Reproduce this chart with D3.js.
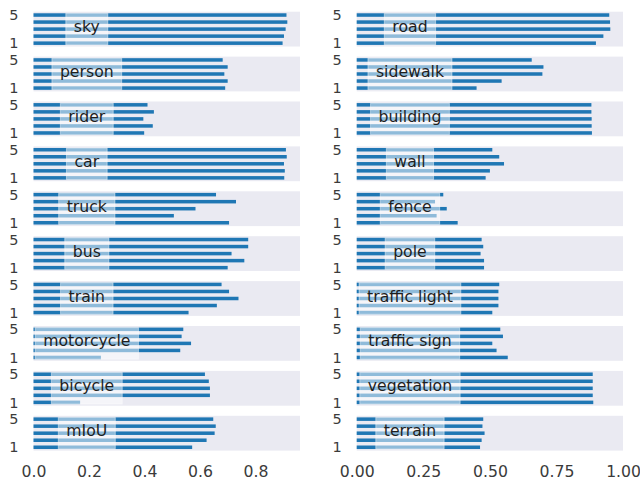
<!DOCTYPE html>
<html>
<head>
<meta charset="utf-8">
<script src="https://cdn.jsdelivr.net/npm/d3@7"></script>
<style>
  html, body { margin: 0; padding: 0; background: #ffffff; }
  svg { display: block; }
</style>
</head>
<body>
<script>
// Per-class IoU for five runs (run 1 ... run 5), two columns of classes.
const leftCategories = ["sky", "person", "rider", "car", "truck", "bus", "train", "motorcycle", "bicycle", "mIoU"];
const rightCategories = ["road", "sidewalk", "building", "wall", "fence", "pole", "traffic light", "traffic sign", "vegetation", "terrain"];
const runs = [1, 2, 3, 4, 5];

const leftScores = [
  [0.898, 0.903, 0.909, 0.915, 0.912], // sky
  [0.691, 0.700, 0.688, 0.700, 0.682], // person
  [0.399, 0.430, 0.396, 0.434, 0.411], // rider
  [0.904, 0.906, 0.903, 0.913, 0.910], // car
  [0.705, 0.506, 0.584, 0.730, 0.658], // truck
  [0.700, 0.760, 0.714, 0.774, 0.774], // bus
  [0.559, 0.661, 0.739, 0.705, 0.678], // train
  [0.243, 0.529, 0.568, 0.534, 0.540], // motorcycle
  [0.168, 0.636, 0.636, 0.632, 0.618], // bicycle
  [0.572, 0.624, 0.653, 0.657, 0.648]  // mIoU
];
const rightScores = [
  [0.898, 0.926, 0.952, 0.951, 0.948], // road
  [0.450, 0.544, 0.697, 0.701, 0.657], // sidewalk
  [0.883, 0.882, 0.882, 0.881, 0.881], // building
  [0.484, 0.500, 0.553, 0.535, 0.509], // wall
  [0.379, 0.300, 0.338, 0.294, 0.325], // fence
  [0.478, 0.478, 0.465, 0.475, 0.469], // pole
  [0.509, 0.532, 0.532, 0.532, 0.535], // traffic light
  [0.567, 0.525, 0.509, 0.549, 0.539], // traffic sign
  [0.888, 0.886, 0.886, 0.886, 0.886], // vegetation
  [0.463, 0.469, 0.480, 0.472, 0.475]  // terrain
];

const leftTicks = [0.0, 0.2, 0.4, 0.6, 0.8];
const rightTicks = [0.00, 0.25, 0.50, 0.75, 1.00];
const yTickRuns = [1, 5];

const W = 640, H = 480;
const svg = d3.select("body").append("svg").attr("width", W).attr("height", H);

const panelTop = 11.7, panelPitch = 44.9, panelH = 34.8;
const barColor = "#1f77b4";
const panelBg = "#eaeaf2";
const fontFamily = "'DejaVu Sans', sans-serif";

function drawColumn(cfg) {
  const xMax = d3.max(cfg.scores.flat()) * 1.05;
  const x = d3.scaleLinear().domain([0, xMax]).range([cfg.x0, cfg.x1]);

  cfg.categories.forEach((cat, i) => {
    const top = panelTop + i * panelPitch;
    const y = d3.scaleLinear().domain([0.525, 5.475]).range([top + panelH, top]);
    const g = svg.append("g");

    g.append("rect")
      .attr("x", cfg.x0).attr("y", top)
      .attr("width", cfg.x1 - cfg.x0).attr("height", panelH)
      .attr("fill", panelBg);

    const bh = y(0.75) - y(1.25);
    g.selectAll("rect.bar")
      .data(cfg.scores[i].map((v, k) => ({ run: runs[k], v })))
      .join("rect")
      .attr("class", "bar")
      .attr("x", x(0))
      .attr("y", d => y(d.run + 0.25))
      .attr("width", d => x(d.v) - x(0))
      .attr("height", bh)
      .attr("fill", barColor);

    // run tick labels (1 and 5)
    const yAxis = d3.axisLeft(y).tickValues(yTickRuns).tickSize(0).tickPadding(15).tickFormat(d3.format("d"));
    const ya = g.append("g").attr("transform", `translate(${cfg.x0},0)`).call(yAxis);
    ya.select(".domain").remove();
    ya.selectAll("text")
      .attr("font-family", fontFamily).attr("font-size", 14.5)
      .attr("fill", "#3b3b3b");

    // class label with translucent box
    const cx = cfg.x0 + 0.2 * (cfg.x1 - cfg.x0);
    const cy = top + panelH / 2;
    const lbl = g.append("g");
    const box = lbl.append("rect");
    const t = lbl.append("text")
      .attr("x", cx).attr("y", cy + 3)
      .attr("text-anchor", "middle")
      .attr("font-family", fontFamily).attr("font-size", 15.7)
      .attr("fill", "#1e1e1e")
      .text(cat);
    const tw = t.node().getComputedTextLength();
    const bw = tw + 16, bhh = 31.5;
    box.attr("x", cx - bw / 2).attr("y", cy - bhh / 2)
      .attr("width", bw).attr("height", bhh)
      .attr("fill", "#ffffff").attr("fill-opacity", 0.5)
      .attr("stroke", "#ffffff").attr("stroke-opacity", 0.45).attr("stroke-width", 1);
  });

  const lastTop = panelTop + (cfg.categories.length - 1) * panelPitch;
  const xAxis = d3.axisBottom(x).tickValues(cfg.ticks).tickSize(0).tickPadding(0).tickFormat(d3.format(cfg.fmt));
  const xa = svg.append("g").attr("transform", `translate(0,${lastTop + panelH + 15})`).call(xAxis);
  xa.select(".domain").remove();
  xa.selectAll("text")
    .attr("font-family", fontFamily).attr("font-size", 15.7)
    .attr("fill", "#3b3b3b");
}

drawColumn({ categories: leftCategories, scores: leftScores, ticks: leftTicks, fmt: ".1f", x0: 33.5, x1: 300 });
drawColumn({ categories: rightCategories, scores: rightScores, ticks: rightTicks, fmt: ".2f", x0: 356.7, x1: 623 });
</script>
</body>
</html>
